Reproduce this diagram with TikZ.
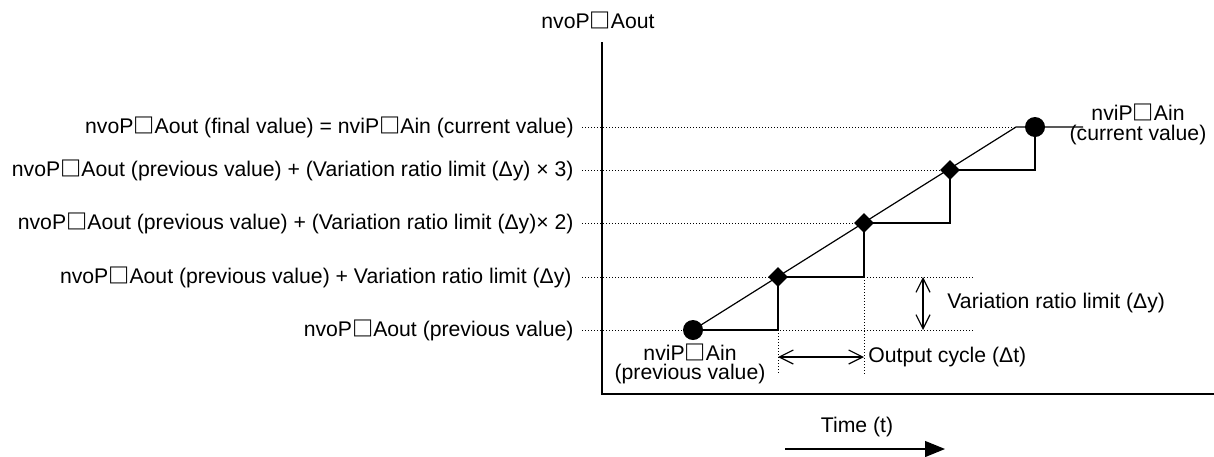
\documentclass[tikz,border=0pt]{standalone}
\usepackage{fontspec}
\setmainfont{Liberation Sans}
\newfontfamily\cjk{Noto Sans CJK JP}
\usetikzlibrary{arrows.meta,shapes.geometric,backgrounds}
\newcommand\sqb{{\cjk\bfseries □}}
\begin{document}
\begin{tikzpicture}[x=0.5pt,y=-0.5pt,
  lbl/.style={inner sep=0pt, font=\fontsize{10.6}{9.5}\selectfont},
  dotnode/.style={circle, fill=black, inner sep=0pt, minimum size=10pt},
  dia/.style={diamond, fill=black, inner sep=0pt, minimum width=10pt, minimum height=10pt},
  curve/.style={line width=0.6pt},
  dotline/.style={line width=0.5pt, dash pattern=on 0.5pt off 1pt},
  axis/.style={line width=0.9pt},
  dim/.style={line width=0.6pt, {Straight Barb[length=7pt,width=7pt]}-{Straight Barb[length=7pt,width=7pt]}}
]
\useasboundingbox (0,0) rectangle (1214,456);

% axes
\coordinate (ytop) at (602,42);
\coordinate (O) at (602,394);
\coordinate (xend) at (1214,394);
\node[lbl] (ylab) at (598,20) {nvoP\sqb Aout};

% markers
\node[dotnode] (p0) at (693,330) {};
\node[dia] (d1) at (778,277) {};
\node[dia] (d2) at (864,223) {};
\node[dia] (d3) at (950,170) {};
\coordinate (top) at (1016,127);
\node[dotnode] (p4) at (1035,127) {};
\coordinate (s0) at (778,330);
\coordinate (s1) at (864,277);
\coordinate (s2) at (950,223);
\coordinate (s3) at (1035,170);
\coordinate (tail) at (1083,127);

% level labels
\node[lbl, anchor=east] (L4) at (574,127) {nvoP\sqb Aout (final value) = nviP\sqb Ain (current value)};
\node[lbl, anchor=east] (L3) at (574,170) {nvoP\sqb Aout (previous value) + (Variation ratio limit (Δy) × 3)};
\node[lbl, anchor=east] (L2) at (574,223) {nvoP\sqb Aout (previous value) + (Variation ratio limit (Δy)× 2)};
\node[lbl, anchor=east] (L1) at (572,277) {nvoP\sqb Aout (previous value) + Variation ratio limit (Δy)};
\node[lbl, anchor=east] (L0) at (574,330) {nvoP\sqb Aout (previous value)};

% point labels
\node[lbl, align=center, font=\fontsize{10.6}{9.8}\selectfont] (Lprev) at (690,364) {nviP\sqb Ain\\(previous value)};
\node[lbl, align=center, font=\fontsize{10.6}{10}\selectfont] (Lcur) at (1138,124) {nviP\sqb Ain\\(current value)};

% dimension helpers
\coordinate (e1) at (974,277);
\coordinate (e0) at (974,330);
\coordinate (v0) at (778,375);
\coordinate (v1) at (864,375);
\coordinate (h0) at (778,357);
\coordinate (h1) at (864,357);
\coordinate (a0) at (923,277);
\coordinate (a1) at (923,330);
\node[lbl, anchor=west] (Ldt) at (868,357) {Output cycle (Δt)};
\node[lbl, anchor=west] (Ldy) at (947,303) {Variation ratio limit (Δy)};

% time arrow
\node[lbl] (tlab) at (857,427) {Time (t)};
\coordinate (t0) at (785,449);
\coordinate (t1) at (945,449);

\begin{scope}[on background layer]
  \draw[axis] (ytop) -- (O) -- (xend);
  \draw[dotline] ([xshift=4pt]L4.east) -- (top);
  \draw[dotline] ([xshift=4pt]L3.east) -- (d3);
  \draw[dotline] ([xshift=4pt]L2.east) -- (d2);
  \draw[dotline] ([xshift=5pt]L1.east) -- (e1);
  \draw[dotline] ([xshift=4pt]L0.east) -- (e0);
  \draw[dotline] (s0) -- (v0);
  \draw[dotline] (s1) -- (v1);
  \draw[curve] (p0.center) -- (top) -- (p4.center) -- (tail);
  \draw[curve] (p0.center) -- (s0) -- (d1.center) -- (s1) -- (d2.center) -- (s2) -- (d3.center) -- (s3) -- (p4.center);
\end{scope}
\draw[dim] (h0) -- (h1);
\draw[dim] (a0) -- (a1);
\draw[line width=0.6pt, -{Triangle[length=10pt,width=8pt]}] (t0) -- (t1);
\end{tikzpicture}
\end{document}
